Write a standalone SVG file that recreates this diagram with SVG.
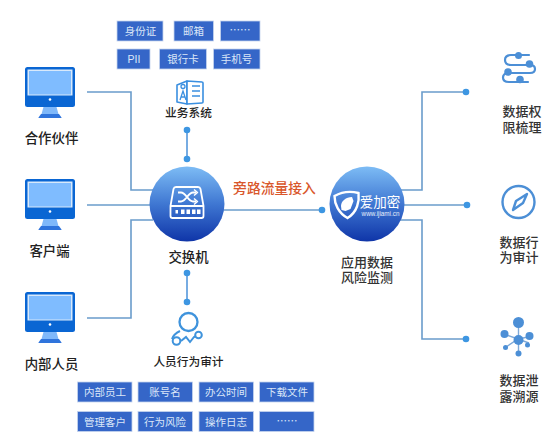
<svg xmlns="http://www.w3.org/2000/svg" width="544" height="448" viewBox="0 0 544 448">
<style>
text{font-family:"Noto Sans CJK SC","Liberation Sans",sans-serif;text-anchor:middle}
.lb{font-size:13.400px;fill:#222;font-weight:500}
.rl{font-size:13px;fill:#333;font-weight:500}
.tg{fill:#3566c8;stroke:#c5d4ee;stroke-width:.8}
.tt{font-size:10.500px;fill:#dbe6f8}
.cn{fill:none;stroke:#6a9ccb;stroke-width:1.6}
.st{fill:none;stroke:#4a90d9;stroke-width:1.5}
.dot{fill:#3d96e2}
.ic{fill:none;stroke:#4c8fd6;stroke-width:2.2;stroke-linecap:round}
.if{fill:#4c8fd6}
</style>
<defs>
<linearGradient id="ball" x1="0" y1="0" x2="0" y2="1"><stop offset="0" stop-color="#7dbcf5"/><stop offset=".5" stop-color="#3f77d2"/><stop offset="1" stop-color="#0f35a8"/></linearGradient>
<g id="mon">
<path d="M18.500 40h13l2 7h-17z" fill="#7fb8fa"/>
<path d="M16 47h18l2.500 3.500v.5h-23v-.5z" fill="#2f74dc"/>
<rect x="0" y="0" width="50" height="40" rx="2.500" fill="#0a66d3"/>
<rect x="2.500" y="2.500" width="45" height="26" fill="#d8e9fb"/>
<rect x="4" y="4" width="42" height="23.500" fill="#7fbcff"/>
<circle cx="25" cy="32.500" r="1.300" fill="#fff"/>
</g>
</defs>
<rect width="544" height="448" fill="#fff"/>
<g id="connectors">
<path class="cn" d="M87 92H131V190H153"/>
<path class="cn" d="M87 205H151"/>
<path class="cn" d="M87 318H131V220H153"/>
<path class="cn" d="M224 210H322"/>
<path class="cn" d="M399 190H422V92H466"/>
<path class="cn" d="M404 205H467"/>
<path class="cn" d="M399 220H422V339H466"/>
<path class="st" d="M187 130V159"/>
<path class="st" d="M187 273V302"/>
<circle class="dot" cx="187" cy="130" r="3.300"/>
<circle class="dot" cx="187" cy="159" r="3.300"/>
<circle class="dot" cx="187" cy="273" r="3.300"/>
<circle class="dot" cx="187" cy="302" r="3.300"/>
<circle class="dot" cx="322" cy="210" r="3.300"/>
<circle class="dot" cx="466" cy="92" r="3.300"/>
<circle class="dot" cx="467" cy="205" r="3.300"/>
<circle class="dot" cx="466" cy="339" r="3.300"/>
</g>
<text x="274.500" y="193" font-size="13.800" font-weight="500" fill="#d9572b">旁路流量接入</text>
<g id="partner"><use href="#mon" x="25" y="67"/><text class="lb" x="51.500" y="143">合作伙伴</text></g>
<g id="client"><use href="#mon" x="25" y="179"/><text class="lb" x="49.500" y="256">客户端</text></g>
<g id="staff"><use href="#mon" x="25" y="292"/><text class="lb" x="51.500" y="369">内部人员</text></g>
<g id="switch">
<circle cx="187" cy="204" r="37.500" fill="url(#ball)"/>
<g fill="none" stroke="#fff" stroke-width="1.800" stroke-linejoin="round">
<path d="M176 187h22q2 0 2.500 2l3 17v10q0 2-2 2h-29q-2 0-2-2v-10l3-17q.5-2 2.500-2z"/>
<path d="M170.500 206h33"/>
<path d="M178 192.500h3c5 0 7 9 12 9h3M178 201.500h3c5 0 7-9 12-9h3" stroke-width="2"/>
<path d="M194 189.500l3.500 3-3.500 3M194 198.500l3.500 3-3.500 3" stroke-width="1.500"/>
</g>
<g fill="#fff"><rect x="175.500" y="210" width="2.500" height="3.500"/><rect x="181" y="209.500" width="3.500" height="4.500"/><rect x="186.500" y="209.500" width="3.500" height="4.500"/><rect x="192" y="209.500" width="3.500" height="4.500"/><rect x="197" y="209.500" width="3.500" height="4.500"/></g>
<text class="lb" x="188.500" y="262">交换机</text>
</g>
<g id="ijiami">
<circle cx="367" cy="204" r="37.500" fill="url(#ball)"/>
<path d="M334.500 196c7-4 16-5 24-3 1 8-1 19-11 25-9-5-13-14-13-22z" fill="none" stroke="#fff" stroke-width="2.400"/>
<path d="M341 206c0-5 5-9 11-9l1.500 4-3 8-5 2-4-1z" fill="#fff"/>
<text x="380" y="207" font-size="13.500" fill="#fff">爱加密</text>
<text x="380.500" y="216" font-size="6.300" fill="#e6eefb" style="font-family:'Liberation Sans',sans-serif">www.ijiami.cn</text>
<text class="rl" x="367" y="267">应用数据<tspan x="367" dy="15">风险监测</tspan></text>
</g>
<g id="biz">
<path d="M177 85l10-4v23l-10-2z" fill="#fff" stroke="#3a8fe0" stroke-width="1.600" stroke-linejoin="round"/>
<path d="M187 81l15 1q1 0 1 1v19q0 1-1 1l-15 1z" fill="#fff" stroke="#3a8fe0" stroke-width="1.600" stroke-linejoin="round"/>
<path d="M192 86h8M192 91h8M192 96h8" stroke="#3a8fe0" stroke-width="1.600"/>
<circle cx="183" cy="86.500" r="2" fill="none" stroke="#3a8fe0" stroke-width="1.300"/>
<path d="M180 100l3-9 3 9M181 97h4" fill="none" stroke="#3a8fe0" stroke-width="1.300"/>
<text x="188.500" y="116.500" font-size="11.700" font-weight="500" fill="#222">业务系统</text>
</g>
<g id="behavior">
<circle cx="188.500" cy="322" r="9" fill="none" stroke="#3f93dc" stroke-width="2.300"/>
<path d="M180 331c-4 2-7 5-8 8M181 341l5-4 4 5 4-5 4-2" fill="none" stroke="#3f93dc" stroke-width="2"/>
<circle cx="176.500" cy="341" r="3.800" fill="#fff" stroke="#3f93dc" stroke-width="2"/>
<circle cx="198.500" cy="335" r="3.300" fill="#fff" stroke="#3f93dc" stroke-width="2"/>
<text x="188.500" y="366" font-size="11.700" font-weight="500" fill="#222">人员行为审计</text>
</g>
<g id="tags-top">
<rect class="tg" x="117" y="21" width="46" height="20"/><text class="tt" x="140.500" y="35">身份证</text>
<rect class="tg" x="174" y="21" width="39.500" height="20"/><text class="tt" x="193.500" y="35">邮箱</text>
<rect class="tg" x="220.500" y="21" width="39.500" height="20"/><text class="tt" x="240" y="34">……</text>
<rect class="tg" x="117" y="49" width="33" height="20"/><text class="tt" x="134" y="63" style="font-family:'Liberation Sans',sans-serif">PII</text>
<rect class="tg" x="159.500" y="49" width="47" height="20"/><text class="tt" x="183" y="63">银行卡</text>
<rect class="tg" x="213.500" y="49" width="46.500" height="20"/><text class="tt" x="236.500" y="63">手机号</text>
</g>
<g id="tags-bottom">
<rect class="tg" x="77.500" y="382" width="54.500" height="20"/><text class="tt" x="105" y="396">内部员工</text>
<rect class="tg" x="138" y="382" width="54.500" height="20"/><text class="tt" x="165" y="396">账号名</text>
<rect class="tg" x="199" y="382" width="54.500" height="20"/><text class="tt" x="226" y="396">办公时间</text>
<rect class="tg" x="259.500" y="382" width="54.500" height="20"/><text class="tt" x="287" y="396">下载文件</text>
<rect class="tg" x="77.500" y="411.500" width="54.500" height="20"/><text class="tt" x="105" y="425.500">管理客户</text>
<rect class="tg" x="138" y="411.500" width="54.500" height="20"/><text class="tt" x="165" y="425.500">行为风险</text>
<rect class="tg" x="199" y="411.500" width="54.500" height="20"/><text class="tt" x="226" y="425.500">操作日志</text>
<rect class="tg" x="259.500" y="411.500" width="54.500" height="20"/><text class="tt" x="287" y="424.500">……</text>
</g>
<g id="perm">
<path class="ic" d="M529 55H511q-6 0-6 5t6 5h19q5 0 5 4t-5 4H509q-6 0-6 4.500t6 4.500h19"/>
<circle class="if" cx="518.500" cy="55.500" r="3.500"/><circle class="if" cx="529.500" cy="64" r="3.800"/><circle class="if" cx="508" cy="72" r="3.800"/><circle class="if" cx="520" cy="79.500" r="3.800"/>
<text class="rl" x="522" y="116">数据权<tspan x="522" dy="16">限梳理</tspan></text>
</g>
<g id="audit">
<circle cx="518.500" cy="202" r="16" fill="none" stroke="#4c8fd6" stroke-width="2.400"/>
<path d="M527 194l-4 9-10 7 3-9z" fill="none" stroke="#4c8fd6" stroke-width="2.400" stroke-linejoin="round"/>
<text class="rl" x="519" y="247">数据行<tspan x="519" dy="15">为审计</tspan></text>
</g>
<g id="trace">
<path d="M518.500 320v19M504 334l14 5 15-3M506 347l12-8 11 4M518.500 339v14" stroke="#7ea9d8" stroke-width="1.400" fill="none"/>
<circle class="if" cx="518.500" cy="322.500" r="5.500"/><circle class="if" cx="504.500" cy="334" r="4"/><circle class="if" cx="529.500" cy="336" r="4"/><circle class="if" cx="518.500" cy="340" r="5"/><circle class="if" cx="505.500" cy="347.500" r="2.500"/><circle class="if" cx="527.500" cy="345" r="2.500"/><circle class="if" cx="518.500" cy="353.500" r="3"/>
<text class="rl" x="519" y="385">数据泄<tspan x="519" dy="16">露溯源</tspan></text>
</g>
</svg>
